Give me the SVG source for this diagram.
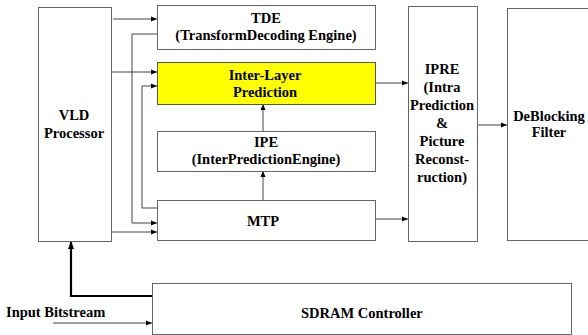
<svg xmlns="http://www.w3.org/2000/svg" width="588" height="335" viewBox="0 0 588 335">
<defs>
<marker id="a" markerWidth="6" markerHeight="6" refX="6" refY="3" orient="auto" markerUnits="userSpaceOnUse"><path d="M0,0.5 L6,3 L0,5.5 z" fill="#000"/></marker>
<marker id="b" markerWidth="8" markerHeight="8" refX="7" refY="4" orient="auto" markerUnits="userSpaceOnUse"><path d="M0,1 L8,4 L0,7 z" fill="#000"/></marker>
</defs>
<rect width="588" height="335" fill="#fff"/>
<g id="connectors" fill="none" stroke="#444" stroke-width="1">
<path d="M113,19 H157" marker-end="url(#a)"/>
<path d="M111,72 H157" marker-end="url(#a)"/>
<path d="M157,34 H132 V223 H157" marker-end="url(#a)"/>
<path d="M157,208 H142 V86 H157" marker-end="url(#a)"/>
<path d="M111,232 H157" marker-end="url(#a)"/>
<path d="M263,131 V104" marker-end="url(#a)"/>
<path d="M263,200 V171" marker-end="url(#a)"/>
<path d="M375,83 H408" marker-end="url(#a)"/>
<path d="M375,219 H408" marker-end="url(#a)"/>
<path d="M477,125 H507" marker-end="url(#a)"/>
<path d="M152,296 H71 V242" stroke="#000" stroke-width="2.2" marker-end="url(#b)"/>
<path d="M53,323 H152" marker-end="url(#a)"/>
</g>
<g font-family="Liberation Serif" font-weight="bold" font-size="14.5" fill="#000">
<g id="vld"><rect fill="#fff" stroke="#666" x="38.5" y="7.5" width="73" height="234"/>
<text text-anchor="middle" x="74" y="120">VLD</text>
<text text-anchor="middle" x="74" y="138">Processor</text></g>
<g id="tde"><rect fill="#fff" stroke="#666" x="157.5" y="5.5" width="218" height="44"/>
<text text-anchor="middle" x="266" y="23">TDE</text>
<text text-anchor="middle" x="266" y="40">(TransformDecoding Engine)</text></g>
<g id="ilp"><rect x="157.5" y="62.5" width="218" height="42" fill="#ffff00" stroke="#555"/>
<text text-anchor="middle" x="265" y="80">Inter-Layer</text>
<text text-anchor="middle" x="265" y="97">Prediction</text></g>
<g id="ipe"><rect fill="#fff" stroke="#666" x="157.5" y="131.5" width="218" height="40"/>
<text text-anchor="middle" x="266" y="147">IPE</text>
<text text-anchor="middle" x="266" y="164">(InterPredictionEngine)</text></g>
<g id="mtp"><rect fill="#fff" stroke="#666" x="157.5" y="200.5" width="218" height="40"/>
<text text-anchor="middle" x="263" y="226">MTP</text></g>
<g id="ipre"><rect fill="#fff" stroke="#666" x="408.5" y="6.5" width="69" height="235"/>
<text text-anchor="middle" x="442" y="74">IPRE</text>
<text text-anchor="middle" x="442" y="92">(Intra</text>
<text text-anchor="middle" x="442" y="110">Prediction</text>
<text text-anchor="middle" x="442" y="128">&amp;</text>
<text text-anchor="middle" x="442" y="146">Picture</text>
<text text-anchor="middle" x="442" y="164">Reconst-</text>
<text text-anchor="middle" x="442" y="182">ruction)</text></g>
<g id="deblocking"><rect fill="#fff" stroke="#666" x="507.5" y="8.5" width="90" height="232"/>
<text text-anchor="middle" x="549" y="121">DeBlocking</text>
<text text-anchor="middle" x="549" y="137">Filter</text></g>
<g id="sdram"><rect fill="#fff" stroke="#666" x="152.5" y="283.5" width="419" height="51"/>
<text x="301" y="318">SDRAM Controller</text></g>
<g id="input"><text x="6" y="317">Input Bitstream</text></g>
</g>
</svg>
